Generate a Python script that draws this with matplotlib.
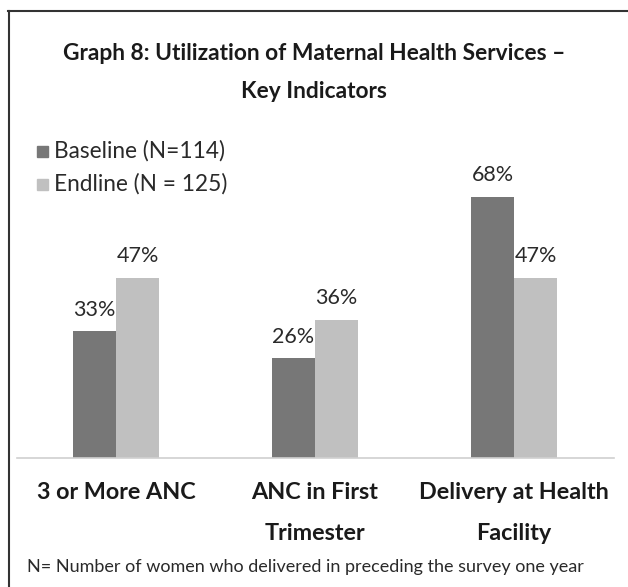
import matplotlib
matplotlib.use('Agg')
import matplotlib.pyplot as plt
import numpy as np
from matplotlib.lines import Line2D
from matplotlib.patches import Rectangle

CATEGORIES = ['3 or More ANC', 'ANC in First\nTrimester', 'Delivery at Health\nFacility']
BASELINE = [33, 26, 68]
ENDLINE = [47, 36, 47]
SERIES_NAMES = ['Baseline (N=114)', 'Endline (N = 125)']
TITLE_LINES = ['Graph 8: Utilization of Maternal Health Services \u2013', 'Key Indicators']
FOOTNOTE = 'N= Number of women who delivered in preceding the survey one year'

DARK = '#777777'
LIGHT = '#c0c0c0'
FONT = 'Lato'
TXT = '#2a2a2a'

W, H = 628, 587
fig = plt.figure(figsize=(W / 100, H / 100), dpi=100)

# axes placed in pixel terms
x0, x1, ybase, ytop = 16.5, 613.5, 458, 130
ppu = 3.84  # pixels per percent
ax = fig.add_axes([x0 / W, (H - ybase) / H, (x1 - x0) / W, (ybase - ytop) / H])
ax.set_xlim(-0.5, 2.5)
ax.set_ylim(0, (ybase - ytop) / ppu)

x = np.arange(len(CATEGORIES))
bw = 0.216
b1 = ax.bar(x - bw / 2, BASELINE, bw, color=DARK)
b2 = ax.bar(x + bw / 2, ENDLINE, bw, color=LIGHT)

for bars, vals in ((b1, BASELINE), (b2, ENDLINE)):
    for r, v in zip(bars, vals):
        ax.text(r.get_x() + r.get_width() / 2, v + 3.0, '%d%%' % v,
                ha='center', va='bottom', fontsize=15.5, family=FONT, color=TXT)

for s in ['top', 'right', 'left']:
    ax.spines[s].set_visible(False)
ax.spines['bottom'].set_color('#d0d0d0')
ax.spines['bottom'].set_linewidth(1.2)
ax.set_yticks([])
ax.set_xticks([])

# category labels
for xi, lab in zip(x, CATEGORIES):
    ax.text(xi, -24 / ppu, lab, ha='center', va='top', fontsize=16.8, fontweight='bold',
            family=FONT, color='#1a1a1a', linespacing=2.2)

# title
for i, line in enumerate(TITLE_LINES):
    fig.text(314 / W, 1 - (54 + 37 * i) / H, line, ha='center', va='center',
             fontsize=16.4, fontweight='bold', family=FONT, color='#1a1a1a')

# legend
for i, (name, col) in enumerate(zip(SERIES_NAMES, [DARK, LIGHT])):
    yc = 151 + i * 33
    fig.patches.append(Rectangle((37 / W, 1 - (yc + 6) / H), 11 / W, 11 / H,
                                 transform=fig.transFigure, color=col))
    fig.text(54 / W, 1 - yc / H, name, ha='left', va='center', fontsize=16.3,
             family=FONT, color=TXT)

# footnote
fig.text(27 / W, 1 - 567 / H, FOOTNOTE, ha='left', va='center', fontsize=13.0,
         family=FONT, color=TXT)

# frame lines (top and left)
fig.add_artist(Line2D([8 / W, 1], [1 - 11 / H, 1 - 11 / H], color='#333333', lw=1.5,
                      transform=fig.transFigure))
fig.add_artist(Line2D([9 / W, 9 / W], [0, 1 - 11 / H], color='#333333', lw=1.5,
                      transform=fig.transFigure))

fig.savefig('out.png', dpi=100)
